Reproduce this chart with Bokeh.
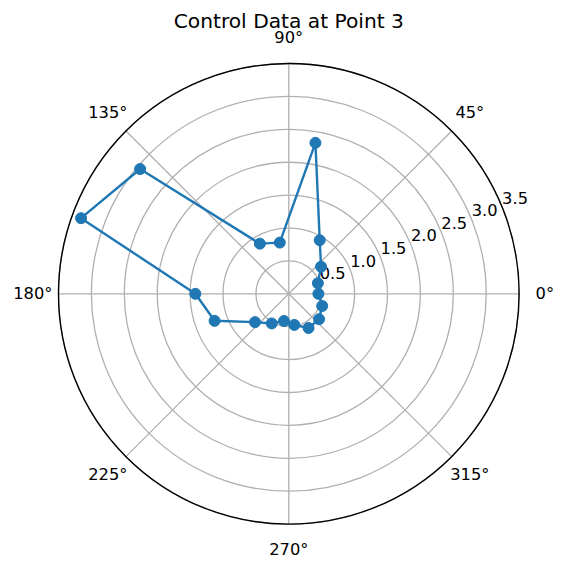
import numpy as np
from bokeh.plotting import figure
from bokeh.models import Range1d
from bokeh.core.properties import value
from bokeh.embed import file_html
from bokeh.resources import INLINE

# ---- data ----
title_text = "Control Data at Point 3"
theta_deg = [0, 20, 40, 60, 80, 100, 120, 140, 160, 180, 200, 220, 240, 260, 280, 300, 320, 340]
radius = [0.45, 0.47, 0.64, 0.94, 2.33, 0.79, 0.88, 2.95, 3.36, 1.42, 1.20, 0.67, 0.52, 0.42, 0.48, 0.60, 0.60, 0.54]
r_ticks = [0.5, 1.0, 1.5, 2.0, 2.5, 3.0, 3.5]
r_tick_labels = ["0.5", "1.0", "1.5", "2.0", "2.5", "3.0", "3.5"]
theta_ticks = [0, 45, 90, 135, 180, 225, 270, 315]
theta_tick_labels = ["0°", "45°", "90°", "135°", "180°", "225°", "270°", "315°"]
r_max = 3.5

# ---- layout ----
W, H = 565, 560
s = 65.8               # pixels per radial unit
cx, cy = 288.3, 293.3  # centre in figure pixels
FONT = value("DejaVu Sans")
TICK_FS = "16.3px"

p = figure(width=W, height=H, output_backend="svg", toolbar_location=None,
           x_range=Range1d(-cx / s, (W - cx) / s),
           y_range=Range1d(-(H - cy) / s, cy / s),
           x_axis_location=None, y_axis_location=None,
           min_border=0, outline_line_color=None)
p.grid.visible = False
p.background_fill_color = "white"

# radial grid circles
p.circle(x=[0] * len(r_ticks), y=[0] * len(r_ticks), radius=r_ticks,
         fill_color=None, line_color="#b0b0b0", line_width=1.3)

# angular spokes
ta = np.deg2rad(theta_ticks)
p.segment(x0=[0] * len(ta), y0=[0] * len(ta),
          x1=list(r_max * np.cos(ta)), y1=list(r_max * np.sin(ta)),
          line_color="#b0b0b0", line_width=1.3)

# outer spine
p.circle(x=[0], y=[0], radius=[r_max], fill_color=None, line_color="black", line_width=1.4)

# theta labels
lab_r = 256 / s
p.text(x=list(lab_r * np.cos(ta)), y=list(lab_r * np.sin(ta)), text=theta_tick_labels,
       text_font=FONT, text_font_size=TICK_FS, text_color="black",
       text_align="center", text_baseline="middle")

# radial tick labels at 22.5 deg
a = np.deg2rad(22.5)
rt = np.array(r_ticks)
p.text(x=list(rt * np.cos(a) + 13.5 / s), y=list(rt * np.sin(a) + 8 / s), text=r_tick_labels,
       text_font=FONT, text_font_size=TICK_FS, text_color="black",
       text_align="center", text_baseline="middle")

# data
th = np.deg2rad(theta_deg)
r = np.array(radius)
xs = list(r * np.cos(th)) + [r[0] * np.cos(th[0])]
ys = list(r * np.sin(th)) + [r[0] * np.sin(th[0])]
p.line(xs, ys, line_color="#1f77b4", line_width=2.4)
p.scatter(list(r * np.cos(th)), list(r * np.sin(th)), size=11,
          fill_color="#1f77b4", line_color="#1f77b4")

# title
p.text(x=[0], y=[(cy - 20) / s], text=[title_text], text_font=FONT,
       text_font_size="20.2px", text_color="black",
       text_align="center", text_baseline="alphabetic")

open("out.html", "w").write(file_html(p, INLINE))
